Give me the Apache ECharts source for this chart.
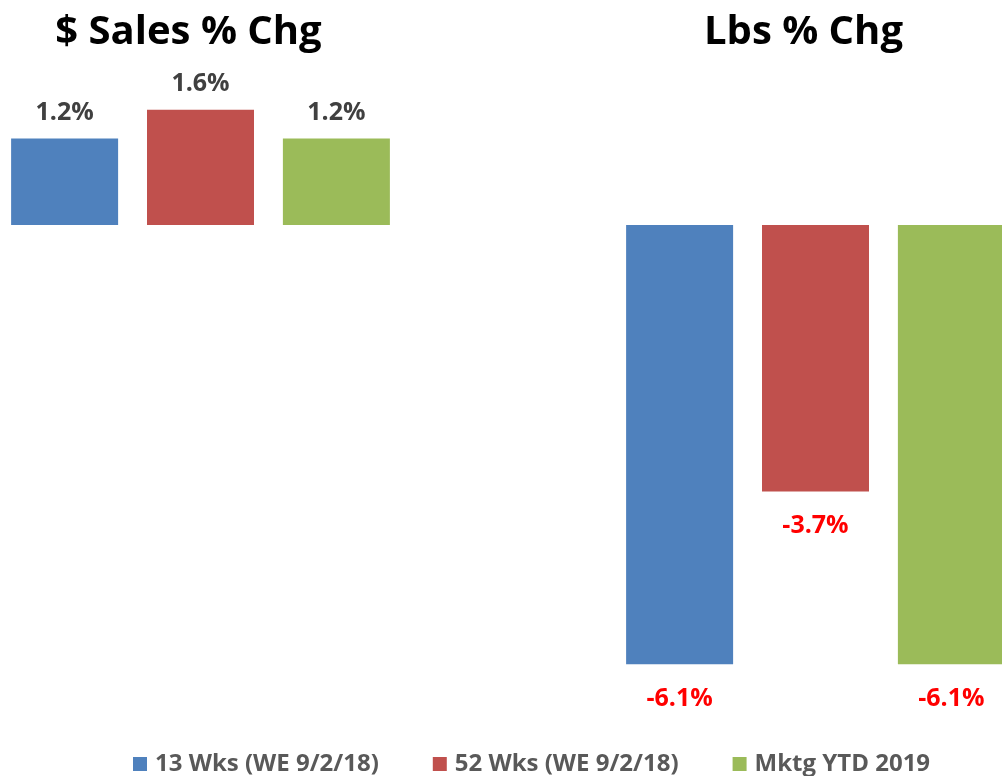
<!DOCTYPE html>
<html lang="en">
<head>
    <meta charset="UTF-8">
    <title>Sales / Lbs % Chg</title>
    <script src="https://cdn.jsdelivr.net/npm/echarts@6/dist/echarts.min.js"></script>
    <style>
        html, body { margin: 0; padding: 0; background: #fff; }
    </style>
</head>
<body>
    <div id="main" style="width:1002px;height:776px;"></div>
    <script type="text/javascript">
        // data
        var categories = ['$ Sales % Chg', 'Lbs % Chg'];
        var seriesNames = ['13 Wks (WE 9/2/18)', '52 Wks (WE 9/2/18)', 'Mktg YTD 2019'];
        var wks13 = [1.2, -6.1];
        var wks52 = [1.6, -3.7];
        var ytd2019 = [1.2, -6.1];
        var colors = ['#4F81BD', '#C0504D', '#9BBB59'];

        var chart = echarts.init(document.getElementById('main'));
        var font = '"Open Sans", "Noto Sans", sans-serif';

        function makeSeries(name, data, color) {
            return {
                name: name,
                type: 'bar',
                barWidth: 107,
                barGap: '27%',
                itemStyle: { color: color },
                label: {
                    show: true,
                    position: 'top',
                    distance: 13,
                    fontFamily: font,
                    fontWeight: 'bold',
                    fontSize: 25,
                    color: '#404040',
                    formatter: function (p) { return p.value.toFixed(1) + '%'; }
                },
                data: data.map(function (v) {
                    if (v < 0) {
                        return {
                            value: v,
                            label: { position: 'bottom', distance: 22, color: '#FF0000' }
                        };
                    }
                    return v;
                })
            };
        }

        var option = {
            backgroundColor: '#fff',
            animation: false,
            color: colors,
            grid: {
                left: -107,
                width: 1230,
                top: 81,
                height: 648,
                outerBoundsMode: 'none',
                containLabel: false
            },
            legend: {
                data: seriesNames,
                top: 747,
                left: 128,
                icon: 'rect',
                itemWidth: 14,
                itemHeight: 14,
                itemGap: 54,
                textStyle: {
                    fontFamily: font,
                    fontWeight: 'bold',
                    fontSize: 24,
                    color: '#595959',
                    padding: [0, 0, 0, 3]
                }
            },
            xAxis: {
                type: 'category',
                position: 'top',
                data: categories,
                axisLine: { show: false },
                axisTick: { show: false },
                axisLabel: {
                    margin: 28,
                    padding: [0, 24, 0, 0],
                    fontFamily: font,
                    fontWeight: 'bold',
                    fontSize: 40,
                    color: '#000'
                }
            },
            yAxis: {
                type: 'value',
                min: -7,
                max: 2,
                show: false,
                splitLine: { show: false }
            },
            series: [
                makeSeries(seriesNames[0], wks13, colors[0]),
                makeSeries(seriesNames[1], wks52, colors[1]),
                makeSeries(seriesNames[2], ytd2019, colors[2])
            ]
        };
        chart.setOption(option);
    </script>
</body>
</html>
